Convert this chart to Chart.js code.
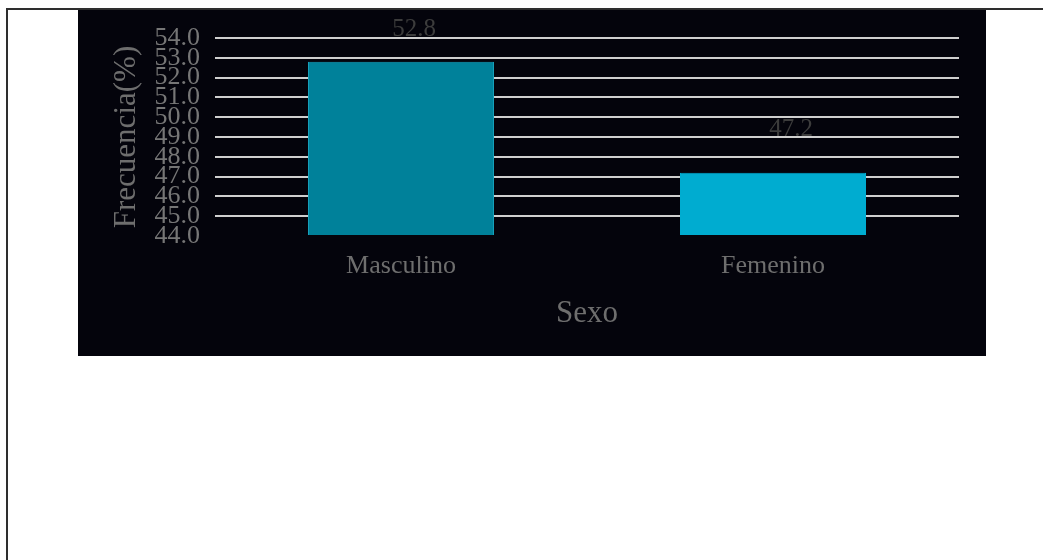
<!DOCTYPE html>
<html lang="es">
<head>
<meta charset="utf-8">
<title>Frecuencia por sexo</title>
<script src="https://cdn.jsdelivr.net/npm/chart.js@4/dist/chart.umd.min.js"></script>
<style>
  html, body { margin: 0; padding: 0; background: #ffffff; }
  body { width: 1043px; height: 560px; position: relative; overflow: hidden; }
  .frame {
    position: absolute; left: 6px; top: 8px; width: 1100px; height: 600px;
    border-top: 2px solid #2e2e2e; border-left: 2px solid #2e2e2e;
  }
  .panel {
    position: absolute; left: 78px; top: 10px; width: 908px; height: 346px;
    background: #04040c;
  }
</style>
</head>
<body>
<div class="frame"></div>
<div class="panel"><canvas id="chart"></canvas></div>
<script>
// Categories, values (percent) and y tick values
const categories = ['Masculino', 'Femenino'];
const frecuencia = [52.8, 47.2];
const yTicks = [44, 45, 46, 47, 48, 49, 50, 51, 52, 53, 54];

const barColors = ['#00819a', '#00acd0'];
const barBorders = ['#16a0ba', '#00acd0'];

const serif = '"Liberation Serif", "Times New Roman", serif';

// Writes each bar's value above it
const valueLabels = {
  id: 'valueLabels',
  afterDatasetsDraw(chart, args, opts) {
    const ctx = chart.ctx;
    const meta = chart.getDatasetMeta(0);
    ctx.save();
    ctx.font = '25px ' + serif;
    ctx.fillStyle = opts.color;
    ctx.textAlign = 'center';
    ctx.textBaseline = 'alphabetic';
    meta.data.forEach((bar, i) => {
      const v = chart.data.datasets[0].data[i];
      ctx.fillText(v.toFixed(1), bar.x + opts.dx[i], bar.y - opts.lift[i]);
    });
    ctx.restore();
  }
};

new Chart(document.getElementById('chart'), {
  type: 'bar',
  data: {
    labels: categories,
    datasets: [{
      data: frecuencia,
      backgroundColor: barColors,
      borderColor: barBorders,
      borderWidth: 1,
      barPercentage: 1,
      categoryPercentage: 0.5,
      base: 44
    }]
  },
  options: {
    responsive: true,
    maintainAspectRatio: false,
    devicePixelRatio: 1,
    animation: false,
    layout: { padding: { top: 24, right: 27, bottom: 0, left: 0 } },
    plugins: {
      legend: { display: false },
      tooltip: { enabled: false },
      valueLabels: { color: '#3c3c3c', dx: [13, 18], lift: [26, 37] }
    },
    scales: {
      x: {
        grid: { display: false },
        border: { display: false },
        ticks: {
          color: '#6e6e6e',
          font: { family: serif, size: 26 },
          padding: 7
        },
        title: {
          display: true,
          text: 'Sexo',
          color: '#6e6e6e',
          font: { family: serif, size: 31 },
          padding: { top: 0, bottom: 24 }
        },
        afterFit(scale) { scale.height = 120; }
      },
      y: {
        min: 44,
        max: 54,
        afterBuildTicks(scale) { scale.ticks = yTicks.map(v => ({ value: v })); },
        grid: {
          color: c => (c.tick && c.tick.value === 44) ? 'rgba(0,0,0,0)' : '#cfcfcf',
          lineWidth: 2,
          drawTicks: false
        },
        border: { display: false },
        ticks: {
          autoSkip: false,
          color: '#767676',
          font: { family: serif, size: 26, lineHeight: 1 },
          padding: 15,
          callback: v => Number(v).toFixed(1)
        },
        title: {
          display: true,
          text: 'Frecuencia(%)',
          color: '#6e6e6e',
          font: { family: serif, size: 31 },
          padding: { top: 30, bottom: 0 }
        },
        afterFit(scale) { scale.width = 137; }
      }
    }
  },
  plugins: [valueLabels]
});
</script>
</body>
</html>
